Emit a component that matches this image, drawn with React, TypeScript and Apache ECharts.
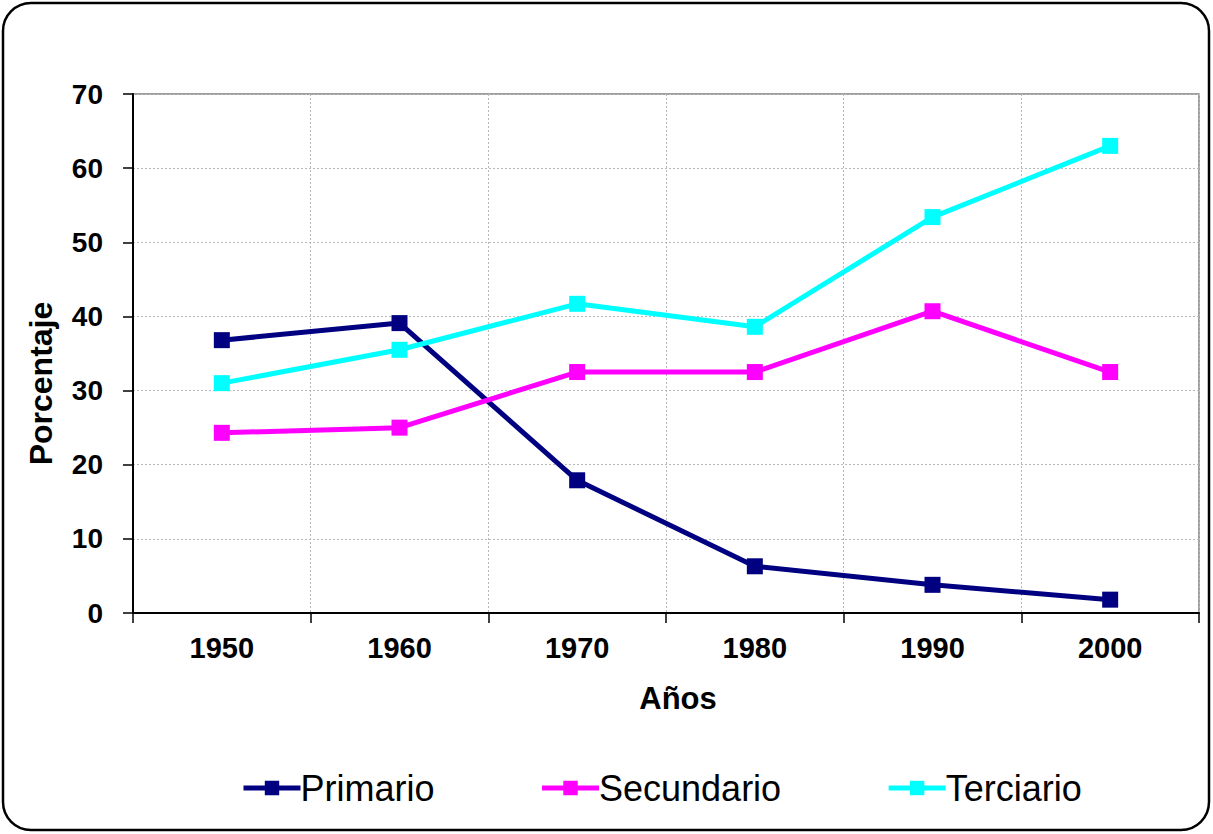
import React, { useEffect, useRef } from "react";
import * as echarts from "echarts";

const years = ["1950", "1960", "1970", "1980", "1990", "2000"];
const primario = [36.8, 39.1, 17.9, 6.3, 3.8, 1.8];
const secundario = [24.3, 25.0, 32.5, 32.5, 40.7, 32.5];
const terciario = [31.0, 35.5, 41.7, 38.6, 53.4, 63.0];
const seriesNames = ["Primario", "Secundario", "Terciario"];
const seriesColors = ["#000080", "#ff00ff", "#00ffff"];

export default function App() {
  const ref = useRef<HTMLDivElement>(null);
  useEffect(() => {
    document.body.style.margin = "0";
    const chart = echarts.init(ref.current!, null, { renderer: "svg" });
    const datasets = [primario, secundario, terciario];
    const font = "'Liberation Sans', Arial, sans-serif";
    chart.setOption({
      animation: false,
      backgroundColor: "#ffffff",
      textStyle: { fontFamily: font },
      grid: {
        left: 133,
        right: 14,
        top: 94,
        bottom: 221,
        show: true,
        borderColor: "#808080",
        borderWidth: 1.5,
      },
      legend: {
        left: 236,
        top: 765,
        itemWidth: 57,
        itemHeight: 18,
        itemGap: 105,
        lineStyle: { width: 5 },
        textStyle: { fontSize: 36, color: "#000", fontFamily: font, padding: [0, 0, 0, -5] },
        data: seriesNames,
      },
      xAxis: {
        type: "category",
        data: years,
        boundaryGap: true,
        name: "Años",
        nameLocation: "middle",
        nameGap: 70,
        nameTextStyle: { fontSize: 31, fontWeight: "bold", color: "#000", fontFamily: font, padding: [0, 0, 0, 24] },
        axisLine: { lineStyle: { color: "#000", width: 2 } },
        axisTick: { show: true, length: 10, interval: 0, lineStyle: { color: "#000", width: 1.5 } },
        axisLabel: { fontSize: 29, fontWeight: "bold", color: "#000", margin: 20, interval: 0 },
        splitLine: { show: true, interval: 0, lineStyle: { color: "#b8b8b8", type: [2, 2], width: 1 } },
      },
      yAxis: {
        type: "value",
        min: 0,
        max: 70,
        interval: 10,
        name: "Porcentaje",
        nameLocation: "middle",
        nameGap: 76,
        nameTextStyle: { fontSize: 32, fontWeight: "bold", color: "#000", fontFamily: font, padding: [0, 60, 0, 0] },
        axisLine: { show: true, lineStyle: { color: "#000", width: 2 } },
        axisTick: { show: true, length: 10, lineStyle: { color: "#000", width: 1.5 } },
        axisLabel: { fontSize: 28, fontWeight: "bold", color: "#000", margin: 30 },
        splitLine: { show: true, lineStyle: { color: "#b8b8b8", type: [2, 2], width: 1 } },
      },
      series: seriesNames.map((name, i) => ({
        name,
        type: "line",
        data: datasets[i],
        symbol: "rect",
        symbolSize: 16,
        lineStyle: { color: seriesColors[i], width: 5 },
        itemStyle: { color: seriesColors[i] },
        emphasis: { disabled: true },
      })),
      graphic: [
        {
          type: "rect",
          shape: { x: 3, y: 3, width: 1206, height: 827, r: 28 },
          style: { fill: "none", stroke: "#000", lineWidth: 2.5 },
          silent: true,
          z: 100,
        },
      ],
    });
    return () => chart.dispose();
  }, []);
  return <div ref={ref} style={{ width: 1213, height: 834 }} />;
}
